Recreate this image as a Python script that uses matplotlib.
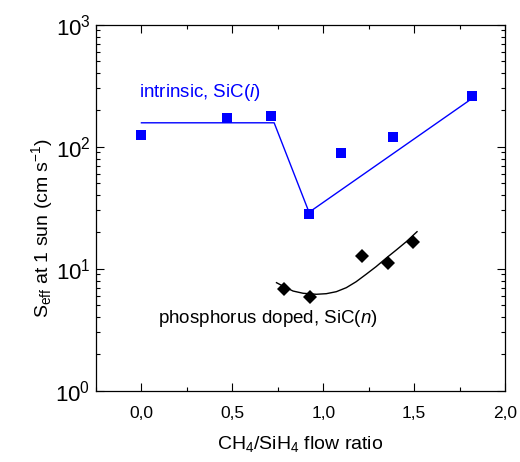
import matplotlib
matplotlib.use("Agg")
import matplotlib.pyplot as plt
from matplotlib.ticker import FixedLocator, MultipleLocator, LogLocator, NullFormatter

plt.rcParams['font.family'] = ['Liberation Sans', 'DejaVu Sans']
plt.rcParams['mathtext.fontset'] = 'custom'
plt.rcParams['mathtext.rm'] = 'Liberation Sans'
plt.rcParams['mathtext.it'] = 'Liberation Sans:italic'
plt.rcParams['mathtext.bf'] = 'Liberation Sans:bold'

# intrinsic SiC(i) layers
ratio_i = [0.0, 0.47, 0.713, 0.922, 1.10, 1.386, 1.818]
seff_i = [124, 172, 177, 28.1, 88, 120, 260]
# guide line for the intrinsic series
guide_x = [0.0, 0.73, 0.922, 1.818]
guide_y = [157, 157, 29, 248]

# phosphorus doped SiC(n) layers
ratio_n = [0.784, 0.925, 1.211, 1.357, 1.496]
seff_n = [6.86, 5.83, 12.6, 11.2, 16.6]
# smooth trend curve for the doped series
trend_x = [0.743, 0.785, 0.834, 0.889, 0.962, 1.017, 1.072, 1.127, 1.181,
           1.236, 1.291, 1.346, 1.401, 1.456, 1.516]
trend_y = [7.68, 7.12, 6.56, 6.29, 6.17, 6.24, 6.48, 6.99, 7.82,
           9.0, 10.4, 12.2, 14.2, 16.6, 20.1]

x_ticks = [0.0, 0.5, 1.0, 1.5, 2.0]
x_ticklabels = ["0,0", "0,5", "1,0", "1,5", "2,0"]

fig = plt.figure(figsize=(5.2, 4.62), dpi=100)
ax = fig.add_axes([96 / 520, 1 - 390.7 / 462, (505 - 96) / 520, (390.7 - 24.7) / 462])

ax.plot(guide_x, guide_y, color='#0000ff', lw=1.0)
ax.plot(ratio_i, seff_i, 's', color='#0000ff', ms=7, mew=0)
ax.plot(trend_x, trend_y, color='black', lw=1.0)
ax.plot(ratio_n, seff_n, 'D', color='black', ms=7, mew=0)

ax.set_yscale('log')
ax.set_xlim(-0.25, 2.0)
ax.set_ylim(1, 1000)

ax.xaxis.set_major_locator(FixedLocator(x_ticks))
ax.set_xticklabels(x_ticklabels, fontsize=12.5)
ax.xaxis.set_minor_locator(MultipleLocator(0.25))
ax.yaxis.set_major_locator(LogLocator(base=10, numticks=10))
ax.yaxis.set_minor_locator(LogLocator(base=10, subs=range(2, 10), numticks=20))
ax.yaxis.set_minor_formatter(NullFormatter())

ax.tick_params(which='both', direction='in', top=True, right=True, width=0.8)
ax.tick_params(which='major', length=5.5)
ax.tick_params(which='minor', length=3)
ax.tick_params(axis='x', which='major', pad=11)
ax.tick_params(axis='y', which='major', labelsize=16, pad=4)
for s in ax.spines.values():
    s.set_linewidth(0.9)

ax.text(-0.016, 277, "intrinsic, SiC($\\mathit{i}$)", color='#0000ff',
        fontsize=13.5, ha='left', va='center')
ax.text(0.09, 3.9, "phosphorus doped, SiC($\\mathit{n}$)", color='black',
        fontsize=13.5, ha='left', va='center')

fig.text(300.5 / 520, 1 - 444 / 462, "CH$_4$/SiH$_4$ flow ratio",
         fontsize=14, ha='center', va='center')
fig.text(41.7 / 520, 1 - 228 / 462, "S$_{\\mathrm{eff}}$ at 1 sun (cm s$^{-1}$)",
         fontsize=14, ha='center', va='center', rotation=90)

fig.savefig("out.png", dpi=100)
